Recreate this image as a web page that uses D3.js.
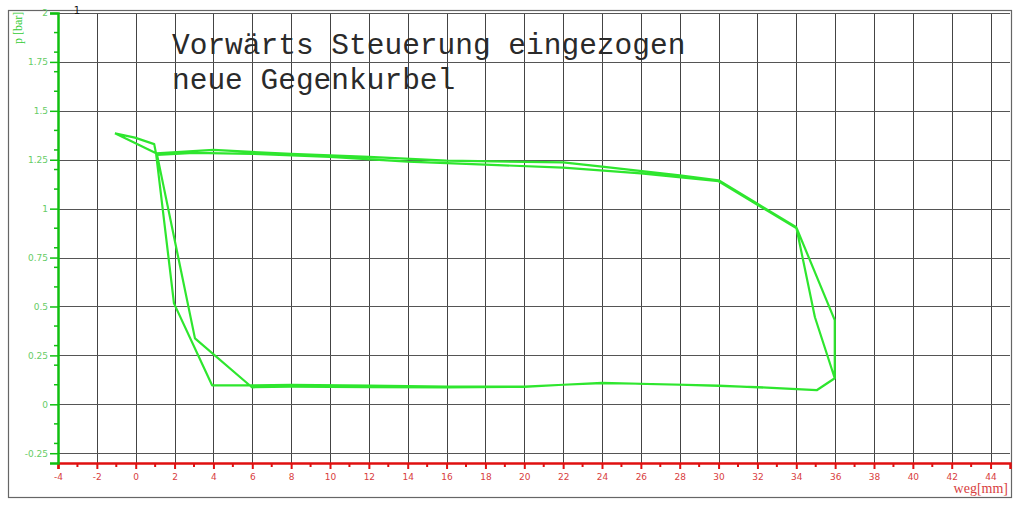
<!DOCTYPE html>
<html>
<head>
<meta charset="utf-8">
<script src="https://cdn.jsdelivr.net/npm/d3@7"></script>
<style>
  html, body { margin: 0; padding: 0; background: #fff; }
  svg { display: block; }
</style>
</head>
<body>
<svg id="chart" width="1024" height="508"></svg>
<script>
// ---- data ----
const titleLines = ["Vorwärts Steuerung eingezogen", "neue Gegenkurbel"];
const xLabel = "weg[mm]";
const yLabel = "p [bar]";
const xTicks = [-4,-2,0,2,4,6,8,10,12,14,16,18,20,22,24,26,28,30,32,34,36,38,40,42,44];
const xTickLabels = ["-4","-2","0","2","4","6","8","10","12","14","16","18","20","22","24","26","28","30","32","34","36","38","40","42","44"];
const yTicks = [-0.25,0,0.25,0.5,0.75,1,1.25,1.5,1.75,2];
const yTickLabels = ["-0.25","0","0.25","0.5","0.75","1","1.25","1.5","1.75","2"];
// path of the indicator trace (two cycles)
const wegMM = [-1.07,-0.04,0.95,1.05,1.97,3.93,6.0,8,12,16,20,22,24,26,30,33,35.05,35.98,35.98,34.02,32,30,26,22,18,14,10,6,3,1.1,
               3.05,5.98,8,12,16,20,22,24,28,32,35.05,35.98,34.96,34.0,32,30,28,24,22,16,12,8,4,1.05,-1.07];
const pBar  = [1.385,1.363,1.33,1.28,0.516,0.097,0.097,0.1,0.095,0.09,0.09,0.1,0.108,0.105,0.095,0.083,0.072,0.133,0.43,0.9,1.02,1.14,1.18,1.21,1.225,1.24,1.265,1.28,1.285,1.275,
               0.337,0.087,0.09,0.088,0.087,0.089,0.1,0.11,0.1,0.088,0.072,0.133,0.445,0.905,1.025,1.145,1.17,1.215,1.237,1.245,1.265,1.28,1.3,1.283,1.385];

// ---- scales ----
const x = d3.scaleLinear().domain([-4, 45]).range([58, 1010]);
const y = d3.scaleLinear().domain([-0.3, 2]).range([463, 13]);

const svg = d3.select("#chart");

// frame
svg.append("rect").attr("x", 8.5).attr("y", 10.5).attr("width", 1003).attr("height", 487)
  .attr("fill", "#fff").attr("stroke", "#666").attr("stroke-width", 1.2);

// grid
const grid = svg.append("g");
grid.selectAll("line.v").data(xTicks.filter(d => d > -4)).join("line")
  .attr("x1", d => Math.round(x(d)) + 0.5).attr("x2", d => Math.round(x(d)) + 0.5)
  .attr("y1", y(2)).attr("y2", y(-0.3))
  .attr("stroke", "#444").attr("stroke-width", 1);
grid.selectAll("line.h").data(yTicks).join("line")
  .attr("x1", x(-4)).attr("x2", x(45))
  .attr("y1", d => Math.round(y(d)) + 0.5).attr("y2", d => Math.round(y(d)) + 0.5)
  .attr("stroke", "#555").attr("stroke-width", 1);

// title
const title = svg.append("g");
titleLines.forEach((t, i) => {
  title.append("text").attr("x", 172).attr("y", 54 + i * 35)
    .attr("font-family", "'Liberation Mono', 'Courier New', monospace")
    .attr("font-size", 29.5).attr("fill", "#2a2a2a").text(t);
});

// curve
const line = d3.line().x(i => x(wegMM[i])).y(i => y(pBar[i]));
svg.append("path").datum(d3.range(wegMM.length))
  .attr("d", line).attr("fill", "none")
  .attr("stroke", "#2ee62e").attr("stroke-width", 2.2).attr("stroke-linejoin", "round");

// x axis (red)
const xAxis = d3.axisBottom(x).tickValues(xTicks).tickSize(6).tickPadding(5)
  .tickFormat((d, i) => xTickLabels[i]);
const gx = svg.append("g").attr("transform", `translate(0,${y(-0.3)})`).call(xAxis);
gx.select(".domain").attr("stroke", "#e01010").attr("stroke-width", 2.5);
gx.selectAll(".tick line").attr("stroke", "#e01010").attr("stroke-width", 2);
gx.selectAll(".tick text").attr("fill", "#d84040").attr("font-family", "'DejaVu Sans', sans-serif").attr("font-size", 9);
const xMinor = d3.range(-3, 45, 2);
svg.append("g").selectAll("line").data(xMinor).join("line")
  .attr("x1", d => x(d)).attr("x2", d => x(d))
  .attr("y1", y(-0.3)).attr("y2", y(-0.3) + 4)
  .attr("stroke", "#e01010").attr("stroke-width", 2);
svg.append("text").attr("x", 1008).attr("y", 493).attr("text-anchor", "end")
  .attr("font-family", "'Liberation Serif', 'Times New Roman', serif").attr("font-size", 14)
  .attr("fill", "#d84040").text(xLabel);

// y axis (green)
const yAxis = d3.axisLeft(y).tickValues(yTicks).tickSize(8).tickPadding(2)
  .tickFormat((d, i) => yTickLabels[i]);
const gy = svg.append("g").attr("transform", `translate(${x(-4)},0)`).call(yAxis);
gy.select(".domain").attr("stroke", "#10c010").attr("stroke-width", 2.5);
gy.selectAll(".tick line").attr("stroke", "#10c010").attr("stroke-width", 1.5);
gy.selectAll(".tick text").attr("fill", "#66cc66").attr("font-family", "'DejaVu Sans', sans-serif").attr("font-size", 9);
const yMinor = d3.range(-0.2, 2, 0.1).map(v => +v.toFixed(2)).filter(v => !yTicks.some(t => Math.abs(t - v) < 1e-6));
svg.append("g").selectAll("line").data(yMinor).join("line")
  .attr("x1", x(-4) - 4).attr("x2", x(-4))
  .attr("y1", d => y(d)).attr("y2", d => y(d))
  .attr("stroke", "#10c010").attr("stroke-width", 1.5);
svg.append("text").attr("transform", "translate(22,44) rotate(-90)")
  .attr("font-family", "'Liberation Serif', 'Times New Roman', serif").attr("font-size", 12)
  .attr("fill", "#33cc33").text(yLabel);

// small marker "1" at top
svg.append("text").attr("x", 77).attr("y", 14).attr("text-anchor", "middle")
  .attr("font-family", "'DejaVu Sans', sans-serif").attr("font-size", 10).attr("fill", "#111").text("1");
</script>
</body>
</html>
